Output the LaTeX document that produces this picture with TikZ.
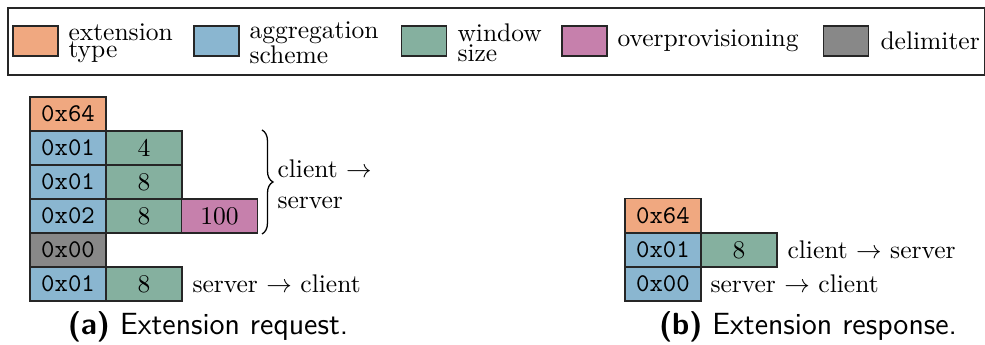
\documentclass[tikz,border=0pt]{standalone}
\usetikzlibrary{decorations.pathreplacing}
\definecolor{cext}{RGB}{240,168,128}
\definecolor{cagg}{RGB}{138,182,208}
\definecolor{cwin}{RGB}{133,176,159}
\definecolor{cover}{RGB}{198,128,172}
\definecolor{cdel}{RGB}{136,136,136}
\tikzset{
  cell/.style={draw=black!85, line width=0.5pt, minimum width=29.8pt, minimum height=13.3pt, inner sep=0pt, outer sep=0pt},
  hexcell/.style={cell, font=\ttfamily},
  swatch/.style={draw=black!85, line width=0.5pt, minimum width=17.6pt, minimum height=11.8pt, inner sep=0pt, outer sep=0pt},
  legtext/.style={anchor=west, inner sep=0pt, align=left, font=\fontsize{10pt}{6.6pt}\selectfont},
  lbl/.style={anchor=west, inner sep=0pt},
  capt/.style={inner sep=0pt, font=\sffamily\fontsize{12pt}{14pt}\selectfont}
}
\begin{document}
\begin{tikzpicture}[x=0.392pt,y=-0.392pt]
\useasboundingbox (0,0) rectangle (985,345);
% legend
\node[draw=black!85, line width=0.6pt, minimum width=382.8pt, minimum height=26.3pt, inner sep=0pt, anchor=north west] (legend) at (7,7) {};
\node[swatch, fill=cext] (s1) at (35.5,41) {};
\node[legtext] (t1) at (68,43) {extension\\type};
\node[swatch, fill=cagg] (s2) at (216.5,41) {};
\node[legtext] (t2) at (249,43) {aggregation\\scheme};
\node[swatch, fill=cwin] (s3) at (424,41) {};
\node[legtext] (t3) at (457,43) {window\\size};
\node[swatch, fill=cover] (s4) at (584.5,41) {};
\node[legtext] (t4) at (617,41) {overprovisioning};
\node[swatch, fill=cdel] (s5) at (846,41) {};
\node[legtext] (t5) at (880,41) {delimiter};
% (a) request
\node[hexcell, fill=cext] (a11) at (68,114) {0x64};
\node[hexcell, fill=cagg] (a21) at (68,148) {0x01};
\node[cell, fill=cwin] (a22) at (144,148) {4};
\node[hexcell, fill=cagg] (a31) at (68,182) {0x01};
\node[cell, fill=cwin] (a32) at (144,182) {8};
\node[hexcell, fill=cagg] (a41) at (68,216) {0x02};
\node[cell, fill=cwin] (a42) at (144,216) {8};
\node[cell, fill=cover] (a43) at (219.5,216) {100};
\node[hexcell, fill=cdel] (a51) at (68,250) {0x00};
\node[hexcell, fill=cagg] (a61) at (68,284) {0x01};
\node[cell, fill=cwin] (a62) at (144,284) {8};
\coordinate (btop) at (262,130);
\coordinate (bbot) at (262,234);
\draw[line width=0.5pt, decorate, decoration={brace, amplitude=4.3pt}] (btop) -- (bbot);
\node[lbl, align=left] (cs) at (277,184) {client $\rightarrow$\\server};
\node[lbl] (sc) at (192,284) {server $\rightarrow$ client};
\node[capt] (capa) at (208,327) {\textbf{(a)} Extension request.};
% (b) response
\node[hexcell, fill=cext] (b11) at (663,215.5) {0x64};
\node[hexcell, fill=cagg] (b21) at (663,250) {0x01};
\node[cell, fill=cwin] (b22) at (739,250) {8};
\node[hexcell, fill=cagg] (b31) at (663,284) {0x00};
\node[lbl] (bcs) at (787,250) {client $\rightarrow$ server};
\node[lbl] (bsc) at (710,284) {server $\rightarrow$ client};
\node[capt] (capb) at (808,327) {\textbf{(b)} Extension response.};
\end{tikzpicture}
\end{document}
